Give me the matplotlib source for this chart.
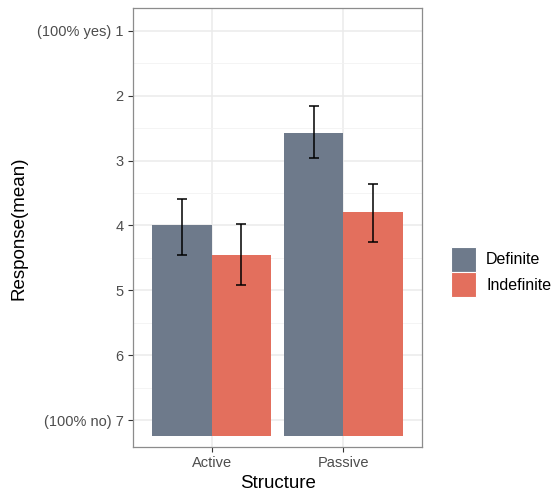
import matplotlib
matplotlib.use("Agg")
import matplotlib.pyplot as plt
import numpy as np
from matplotlib.patches import Patch

categories = ["Active", "Passive"]
groups = ["Definite", "Indefinite"]
means = {"Definite": [4.00, 2.57], "Indefinite": [4.46, 3.80]}
err_low = {"Definite": [3.59, 2.16], "Indefinite": [3.98, 3.36]}
err_high = {"Definite": [4.45, 2.96], "Indefinite": [4.92, 4.26]}
yticks = [1, 2, 3, 4, 5, 6, 7]
yticklabels = ["(100% yes) 1", "2", "3", "4", "5", "6", "(100% no) 7"]
colors = {"Definite": "#6E7A8B", "Indefinite": "#E36F5D"}

plt.rcParams['font.family'] = ['Liberation Sans', 'DejaVu Sans']

fig = plt.figure(figsize=(5.58, 4.92), dpi=100)
ax = fig.add_axes([0.2378, 0.0909, 0.757 - 0.2378, 0.983 - 0.0909])

base = 7.24
width = 0.45
x = np.arange(1, len(categories) + 1)
for i, g in enumerate(groups):
    xs = x + (i - 0.5) * width
    m = np.array(means[g])
    ax.bar(xs, m - base, bottom=base, width=width, color=colors[g], zorder=2)
    lo = np.array(err_low[g]); hi = np.array(err_high[g])
    ax.errorbar(xs, m, yerr=[m - lo, hi - m], fmt='none', ecolor='black',
                elinewidth=1.1, capsize=3.5, capthick=1.1, zorder=3)

ax.set_xlim(0.4, 2.6)
ax.set_ylim(7.42, 0.655)
ax.set_xticks(x)
ax.set_xticklabels(categories)
ax.set_yticks(yticks)
ax.set_yticklabels(yticklabels)
ax.set_yticks(np.arange(1.5, 7, 1), minor=True)
ax.grid(True, which='major', color='#EBEBEB', linewidth=1.1, zorder=0)
ax.grid(True, which='minor', axis='y', color='#F2F2F2', linewidth=0.6, zorder=0)
ax.set_axisbelow(True)
ax.tick_params(axis='both', which='major', colors='#333333', labelcolor='#4D4D4D',
               labelsize=10.5, length=3.5, width=0.8, pad=3)
ax.tick_params(axis='y', which='minor', length=0)
for s in ax.spines.values():
    s.set_color('#8C8C8C')
    s.set_linewidth(0.9)

ax.set_xlabel("Structure", fontsize=13.5, color='black')
ax.set_ylabel("Response(mean)", fontsize=13.5, color='black')
ax.xaxis.set_label_coords(0.5, -0.064)
ax.yaxis.set_label_coords(-0.364, 0.5)

handles = [Patch(facecolor=colors[g], edgecolor='white', linewidth=0.8, label=g) for g in groups]
fig.legend(handles=handles, loc='center left', bbox_to_anchor=(0.808, 0.447),
           frameon=False, fontsize=11.5, handlelength=1.55, handleheight=2.0,
           handletextpad=0.65, labelspacing=0.05, borderaxespad=0, borderpad=0)

fig.savefig("out.png", dpi=100)
